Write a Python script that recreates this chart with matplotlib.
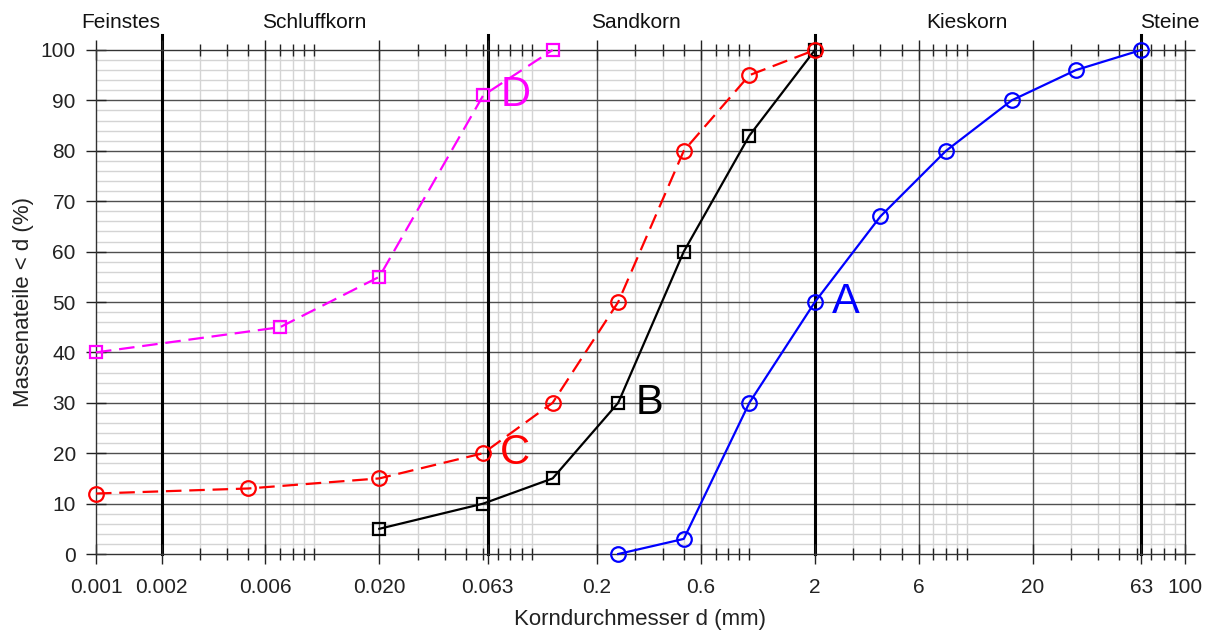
import numpy as np
import matplotlib
matplotlib.use('agg')
import matplotlib.pyplot as plt
from matplotlib.ticker import FixedLocator, FixedFormatter, LogLocator, MultipleLocator, NullFormatter

plt.rcParams['font.family'] = ['Liberation Sans', 'DejaVu Sans']

# Siebkurven (Korndurchmesser in mm, Massenanteil < d in %)
d_A = [0.25, 0.5, 1, 2, 4, 8, 16, 31.5, 63]
p_A = [0, 3, 30, 50, 67, 80, 90, 96, 100]

d_B = [0.02, 0.06, 0.125, 0.25, 0.5, 1, 2]
p_B = [5, 10, 15, 30, 60, 83, 100]

d_C = [0.001, 0.005, 0.02, 0.06, 0.125, 0.25, 0.5, 1, 2]
p_C = [12, 13, 15, 20, 30, 50, 80, 95, 100]

d_D = [0.001, 0.007, 0.02, 0.06, 0.125]
p_D = [40, 45, 55, 91, 100]

x_ticks = [0.001, 0.002, 0.006, 0.02, 0.063, 0.2, 0.6, 2, 6, 20, 63, 100]
x_ticklabels = ['0.001', '0.002', '0.006', '0.020', '0.063', '0.2', '0.6', '2', '6', '20', '63', '100']
grenzen = [0.002, 0.063, 2, 63]   # Korngrenzen
bereiche = ['Feinstes', 'Schluffkorn', 'Sandkorn', 'Kieskorn', 'Steine']
bereich_x = [0.0013, 0.01, 0.3, 10, 85]

fig = plt.figure(figsize=(12.1, 6.32), dpi=100)
ax = fig.add_axes([0.0793, 0.1234, 0.9, 0.7975])

ax.set_xscale('log')
ax.set_xlim(0.001, 100)
ax.set_ylim(0, 100)

ax.xaxis.set_major_locator(FixedLocator(x_ticks))
ax.xaxis.set_major_formatter(FixedFormatter(x_ticklabels))
ax.xaxis.set_minor_locator(LogLocator(base=10, subs=np.arange(1, 10)))
ax.xaxis.set_minor_formatter(NullFormatter())
ax.yaxis.set_major_locator(MultipleLocator(10))
ax.yaxis.set_minor_locator(MultipleLocator(2))

# Gitter von Hand, damit die Reihenfolge stimmt
x_minor = [v for v in ax.xaxis.get_minorticklocs() if 0.001 < v < 100 and not np.isclose(x_ticks, v).any()]
for v in x_minor:
    ax.axvline(v, color='#d4d4d4', lw=1.0, zorder=0.5)
for v in np.arange(2, 100, 2):
    if v % 10:
        ax.axhline(v, color='#d4d4d4', lw=1.0, zorder=0.5)
for v in x_ticks[1:-1]:
    ax.axvline(v, color='#505050', lw=1.0, zorder=0.8)
for v in range(10, 100, 10):
    ax.axhline(v, color='#505050', lw=1.0, zorder=0.8)

for g in grenzen:
    ax.axvline(g, ymin=0, ymax=1.03, color='black', linewidth=2.2, clip_on=False, zorder=1.5)

ax.tick_params(which='both', direction='inout', top=True, right=True, colors='#222222')
ax.tick_params(which='major', length=15, width=1.0, labelsize=15)
ax.tick_params(axis='x', which='major', pad=10)
ax.tick_params(axis='y', which='major', pad=7)
ax.tick_params(axis='x', which='minor', length=8, width=1.0)
ax.tick_params(axis='y', which='minor', length=0)
ax.tick_params(labelcolor='#222222')
for s in ax.spines.values():
    s.set_color('#333333')
    s.set_linewidth(1.0)

dash = (0, (7, 3.5))
ax.plot(d_A, p_A, color='#0000ff', lw=1.6, marker='o', ms=10.5, mfc='none', mew=1.6, zorder=3, clip_on=False)
ax.plot(d_B, p_B, color='black', lw=1.6, marker='s', ms=8.5, mfc='none', mew=1.6, zorder=3, clip_on=False)
ax.plot(d_C, p_C, color='#ff0000', lw=1.6, ls=dash, marker='o', ms=10.5, mfc='none', mew=1.6, zorder=3, clip_on=False)
ax.plot(d_D, p_D, color='#ff00ff', lw=1.6, ls=dash, marker='s', ms=8.5, mfc='none', mew=1.6, zorder=3, clip_on=False)

ax.text(d_A[3] * 1.2, p_A[3], 'A', color='#0000ff', fontsize=30, va='center', ha='left', zorder=4)
ax.text(d_B[3] * 1.2, p_B[3], 'B', color='black', fontsize=30, va='center', ha='left', zorder=4)
ax.text(d_C[3] * 1.19, p_C[3], 'C', color='#ff0000', fontsize=30, va='center', ha='left', zorder=4)
ax.text(d_D[3] * 1.2, p_D[3], 'D', color='#ff00ff', fontsize=30, va='center', ha='left', zorder=4)

trans = ax.get_xaxis_transform()
for name, xb in zip(bereiche, bereich_x):
    ax.text(xb, 1.044, name, transform=trans, fontsize=15, ha='center', va='baseline', color='#111111')

ax.set_xlabel('Korndurchmesser d (mm)', fontsize=16, color='#222222')
ax.set_ylabel('Massenateile < d (%)', fontsize=16, color='#222222')
ax.xaxis.set_label_coords(0.5, -0.11)
ax.yaxis.set_label_coords(-0.057, 0.5)

fig.savefig('out.png', dpi=100)
